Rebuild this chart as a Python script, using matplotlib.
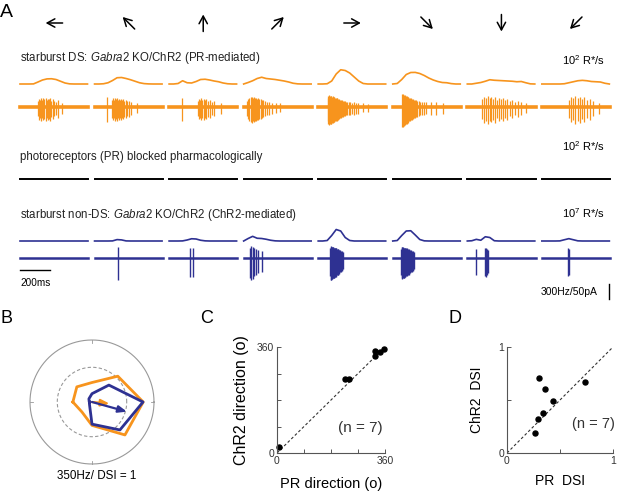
import numpy as np
import matplotlib.pyplot as plt

plt.rcParams['font.family'] = ['Liberation Sans', 'DejaVu Sans']
plt.rcParams['mathtext.fontset'] = 'custom'
plt.rcParams['mathtext.rm'] = 'Liberation Sans'
plt.rcParams['mathtext.it'] = 'Liberation Sans:italic'

W, H = 617, 492
ORANGE = '#F7941D'
BLUE = '#2E3192'
GREY = '#999999'

# stimulus directions (deg), in the order of the traces
directions = [180, 135, 90, 45, 0, 315, 270, 225]

# firing rate sampled every 30 ms (Hz)
rate_t = [0, 30, 60, 90, 120, 150, 180, 210, 240, 270, 300, 330, 360, 390, 420, 450]
pr_rate = [
    [0, 0, 0, 2, 40, 80, 102, 105, 90, 55, 20, 3, 0, 0, 0, 0],
    [0, 0, 5, 25, 70, 125, 130, 110, 85, 55, 25, 8, 2, 0, 0, 0],
    [0, 0, 10, 65, 25, 20, 50, 90, 95, 80, 60, 45, 20, 5, 0, 0],
    [0, 30, 65, 110, 135, 110, 100, 90, 75, 60, 40, 15, 3, 0, 0, 0],
    [0, 0, 5, 60, 200, 285, 270, 220, 140, 60, 10, 0, 0, 0, 0, 0],
    [0, 10, 90, 190, 230, 232, 210, 170, 120, 80, 50, 30, 25, 8, 0, 0],
    [0, 0, 15, 30, 55, 85, 75, 70, 65, 60, 55, 45, 50, 25, 3, 0],
    [0, 0, 0, 0, 0, 5, 25, 45, 65, 73, 65, 50, 45, 40, 15, 0],
]
chr2_rate = [
    [0, 0, 0, 0, 0, 0, 0, 0, 0, 0, 0, 0, 0, 0, 0, 0],
    [0, 0, 0, 0, 2, 28, 22, 2, 0, 0, 0, 0, 0, 0, 0, 0],
    [0, 0, 0, 2, 20, 45, 40, 15, 3, 0, 0, 0, 0, 0, 0, 0],
    [0, 50, 93, 55, 50, 35, 15, 3, 0, 0, 0, 0, 0, 0, 0, 0],
    [0, 0, 10, 110, 230, 200, 70, 10, 0, 0, 0, 0, 0, 0, 0, 0],
    [0, 10, 110, 200, 205, 120, 30, 3, 0, 0, 0, 0, 0, 0, 0, 0],
    [0, 5, 33, 15, 85, 70, 5, 0, 0, 0, 0, 0, 0, 0, 0, 0],
    [0, 0, 0, 0, 2, 25, 47, 25, 3, 0, 0, 0, 0, 0, 0, 0],
]

# spike times (ms) and amplitudes (pA)
pr_spikes = [
    [118, 126, 133, 141, 148, 156, 163, 171, 178, 186, 193, 201, 209, 218, 228, 240, 255, 278],
    [82, 118, 125, 131, 138, 144, 151, 157, 164, 170, 177, 184, 191, 199, 208, 218, 230, 246, 282],
    [89, 190, 198, 206, 214, 222, 230, 239, 248, 258, 270, 284, 300, 345],
    [20, 30, 38, 46, 53, 60, 67, 74, 81, 88, 96, 104, 113, 122, 132, 143, 155, 170, 190, 215, 240],
    [62, 68, 73, 78, 83, 88, 93, 98, 103, 108, 113, 118, 123, 128, 133, 139, 145, 151, 157, 164,
     171, 178, 186, 194, 203, 213, 224, 236, 250, 267, 300, 330],
    [64, 69, 74, 79, 84, 89, 94, 99, 104, 110, 116, 122, 128, 134, 141, 148, 156, 164, 173, 183,
     194, 206, 220, 256, 289, 333],
    [100, 112, 124, 137, 148, 160, 172, 183, 195, 208, 222, 236, 250, 266, 282, 300, 318, 338, 360, 389],
    [178, 192, 206, 222, 238, 252, 268, 284, 300, 318, 340, 378],
]
pr_amp = [
    [30, 42, 35, 46, 38, 44, 40, 47, 36, 43, 39, 45, 33, 40, 30, 28, 35, 22],
    [50, 35, 44, 38, 47, 40, 45, 36, 43, 38, 42, 35, 40, 32, 37, 30, 33, 25, 20],
    [47, 30, 40, 35, 44, 38, 42, 36, 40, 32, 36, 28, 30, 22],
    [30, 40, 45, 50, 52, 48, 50, 46, 47, 43, 44, 40, 40, 36, 34, 30, 28, 25, 22, 20, 18],
    [45, 58, 60, 57, 55, 56, 52, 54, 50, 51, 47, 48, 44, 45, 42, 40, 38, 37, 34, 33,
     30, 30, 28, 27, 25, 25, 23, 25, 22, 22, 18, 15],
    [65, 66, 62, 60, 58, 56, 55, 52, 50, 48, 46, 44, 42, 40, 38, 36, 34, 32, 30, 28,
     27, 25, 24, 28, 26, 22],
    [40, 52, 45, 55, 48, 50, 42, 52, 38, 46, 40, 48, 35, 42, 30, 38, 28, 32, 25, 20],
    [38, 50, 44, 55, 48, 52, 40, 50, 36, 42, 30, 22],
]
chr2_spikes = [
    [],
    [156],
    [140, 162],
    [40, 50, 60, 72, 84, 98, 124],
    [78, 82, 85, 89, 92, 96, 99, 103, 106, 110, 113, 117, 121, 125, 129, 133, 137, 141, 146, 151, 156, 161, 167],
    [56, 60, 64, 68, 72, 76, 80, 84, 88, 92, 96, 100, 105, 110, 115, 120, 126, 132, 138, 144],
    [56, 118, 124, 130, 138],
    [171, 180],
]
chr2_amp = [
    [],
    [72],
    [63, 63],
    [65, 73, 70, 60, 55, 50, 45],
    [60, 73, 72, 70, 70, 68, 68, 66, 65, 64, 63, 62, 60, 58, 57, 55, 53, 50, 48, 45, 42, 40, 35],
    [55, 68, 70, 68, 66, 65, 63, 62, 60, 60, 58, 56, 55, 52, 50, 48, 45, 42, 40, 35],
    [55, 60, 62, 58, 50],
    [60, 58],
]

# polar plot: spike rate per direction (Hz)
pr_polar = [108, 121, 110, 206, 289, 263, 132, 80]
chr2_polar = [15, 25, 47, 135, 288, 223, 125, 20]
polar_max = 350

# population: preferred direction and DSI
pr_dir = [7, 228, 239, 327, 327, 343, 358]
chr2_dir = [21, 250, 250, 347, 330, 344, 354]
pr_dsi = [0.30, 0.36, 0.43, 0.34, 0.29, 0.26, 0.74]
chr2_dsi = [0.71, 0.60, 0.49, 0.38, 0.32, 0.19, 0.67]


def fx(x):
    return x / W


def fy(y):
    return 1 - y / H


# layout of panel A (pixels / ms)
X0 = 20
MS_PX = 0.15
SEG_PITCH = 497
SEG_LEN = 455
HZ_PX = 0.05
PA_PX = 0.3
Y_ARROW = 23
Y_PR_RATE, Y_PR_SPK = 84, 107
Y_BLOCK = 179
Y_CH_RATE, Y_CH_SPK = 241, 258

fig = plt.figure(figsize=(W / 100, H / 100), dpi=100)
axA = fig.add_axes([0, 0, 1, 1])
axA.set_xlim(-X0 / MS_PX, (W - X0) / MS_PX)
axA.set_ylim(H, 0)
axA.axis('off')

for k, d in enumerate(directions):
    t0 = k * SEG_PITCH
    t = t0 + np.array(rate_t)
    # direction arrow
    c = t0 + SEG_LEN / 2
    th = np.deg2rad(d)
    dx, dy = 8.5 * np.cos(th) / MS_PX, -8.5 * np.sin(th)
    axA.annotate('', xy=(c + dx, Y_ARROW + dy), xytext=(c - dx, Y_ARROW - dy),
                 arrowprops=dict(arrowstyle='->,head_length=0.55,head_width=0.3',
                                 lw=1.1, color='k', shrinkA=0, shrinkB=0))
    # PR mediated
    axA.plot(t, Y_PR_RATE - np.array(pr_rate[k]) * HZ_PX, color=ORANGE, lw=1.2)
    axA.plot([t0, t0 + SEG_LEN], [Y_PR_SPK, Y_PR_SPK], color=ORANGE, lw=2.6)
    a = np.array(pr_amp[k]) * PA_PX
    axA.vlines(t0 + np.array(pr_spikes[k]), Y_PR_SPK - 0.65 * a, Y_PR_SPK + a,
               color=ORANGE, lw=0.9)
    # PR blocked
    axA.plot([t0, t0 + SEG_LEN], [Y_BLOCK, Y_BLOCK], color='k', lw=1.4)
    # ChR2 mediated
    axA.plot(t, Y_CH_RATE - np.array(chr2_rate[k]) * HZ_PX, color=BLUE, lw=1.2)
    axA.plot([t0, t0 + SEG_LEN], [Y_CH_SPK, Y_CH_SPK], color=BLUE, lw=1.8)
    if chr2_spikes[k]:
        a = np.array(chr2_amp[k]) * PA_PX
        axA.vlines(t0 + np.array(chr2_spikes[k]), Y_CH_SPK - 0.53 * a, Y_CH_SPK + a,
                   color=BLUE, lw=1.0)

fs_row = 8.3
fig.text(fx(20), fy(58), 'starburst DS: $\\mathit{Gabra2}$ KO/ChR2 (PR-mediated)',
         fontsize=fs_row, va='center', color='#222222')
fig.text(fx(20), fy(157), 'photoreceptors (PR) blocked pharmacologically',
         fontsize=fs_row, va='center', color='#222222')
fig.text(fx(20), fy(215), 'starburst non-DS: $\\mathit{Gabra2}$ KO/ChR2 (ChR2-mediated)',
         fontsize=fs_row, va='center', color='#222222')
fig.text(fx(605), fy(60), '10$^2$ R*/s', fontsize=8, ha='right', va='center')
fig.text(fx(605), fy(146), '10$^2$ R*/s', fontsize=8, ha='right', va='center')
fig.text(fx(605), fy(213), '10$^7$ R*/s', fontsize=8, ha='right', va='center')

# scale bars
axA.plot([0, 200], [270, 270], color='k', lw=1)
fig.text(fx(20), fy(283), '200ms', fontsize=7.2, va='center')
bar_x = (609 - X0) / MS_PX
axA.plot([bar_x, bar_x], [284, 284 + 50 * PA_PX], color='k', lw=1)
fig.text(fx(598), fy(292), '300Hz/50pA', fontsize=7.5, ha='right', va='center')

# panel letters
fig.text(fx(0), fy(4), 'A', fontsize=14, va='top')
fig.text(fx(1), fy(310), 'B', fontsize=13, va='top')
fig.text(fx(200), fy(310), 'C', fontsize=13, va='top')
fig.text(fx(448), fy(310), 'D', fontsize=13, va='top')

# B: polar plot
cx, cy, half = 92, 402, 70
axB = fig.add_axes([fx(cx - half), fy(cy + half), 2 * half / W, 2 * half / H])
lim = polar_max * half / 62
axB.set_xlim(-lim, lim)
axB.set_ylim(-lim, lim)
axB.axis('off')
circ = np.linspace(0, 2 * np.pi, 300)
axB.plot(polar_max * np.cos(circ), polar_max * np.sin(circ), color=GREY, lw=0.8)
ring = 0.56 * polar_max
axB.plot(ring * np.cos(circ), ring * np.sin(circ), color=GREY, lw=0.8, ls=(0, (3, 2)))
for q in [0, 90, 180, 270]:
    qa = np.deg2rad(q)
    axB.plot([0.95 * polar_max * np.cos(qa), polar_max * np.cos(qa)],
             [0.95 * polar_max * np.sin(qa), polar_max * np.sin(qa)], color=GREY, lw=0.6)
ang = np.deg2rad(directions)
for rates, col in [(pr_polar, ORANGE), (chr2_polar, BLUE)]:
    r = np.array(rates, dtype=float)
    px_ = np.append(r * np.cos(ang), r[0] * np.cos(ang[0]))
    py_ = np.append(r * np.sin(ang), r[0] * np.sin(ang[0]))
    axB.plot(px_, py_, color=col, lw=2)
for rates, col in [(pr_polar, ORANGE), (chr2_polar, BLUE)]:
    r = np.array(rates, dtype=float)
    v = np.sum(r * np.exp(1j * ang)) / np.sum(r)
    tip = v * polar_max
    axB.annotate('', xy=(tip.real, tip.imag), xytext=(0, 0),
                 arrowprops=dict(arrowstyle='-|>,head_length=0.5,head_width=0.2',
                                 lw=1.6, color=col, shrinkA=0, shrinkB=0))
fig.text(fx(97), fy(476), '350Hz/ DSI = 1', fontsize=8.4, ha='center', va='center')


def style_axes(ax):
    for s in ['top', 'right']:
        ax.spines[s].set_visible(False)
    for s in ['left', 'bottom']:
        ax.spines[s].set_color('#555555')
        ax.spines[s].set_linewidth(0.8)
    ax.tick_params(direction='in', length=3, width=0.7, color='#555555',
                   labelsize=7.5, labelcolor='#333333', pad=2)


# C: preferred direction
axC = fig.add_axes([fx(277), fy(453), 108 / W, 106 / H])
axC.plot([0, 360], [0, 360], color='#333333', lw=0.8, ls=(0, (2.5, 2)))
axC.plot(pr_dir, chr2_dir, 'o', color='k', ms=3.6, clip_on=False)
axC.set_xlim(0, 360)
axC.set_ylim(0, 360)
axC.set_xticks([0, 90, 180, 270, 360])
axC.set_xticklabels(['0', '', '', '', '360'])
axC.set_yticks([0, 90, 180, 270, 360])
axC.set_yticklabels(['0', '', '', '', '360'])
style_axes(axC)
axC.set_xlabel('PR direction (o)', fontsize=10.5, labelpad=8)
axC.set_ylabel('ChR2 direction (o)', fontsize=11.5, labelpad=6)
axC.text(0.98, 0.24, '(n = 7)', transform=axC.transAxes, fontsize=11, ha='right',
         va='center', color='#333333')

# D: DSI
axD = fig.add_axes([fx(507), fy(453), 106 / W, 106 / H])
axD.plot([0, 1], [0, 1], color='#333333', lw=0.8, ls=(0, (2.5, 2)))
axD.plot(pr_dsi, chr2_dsi, 'o', color='k', ms=3.6, clip_on=False)
axD.set_xlim(0, 1)
axD.set_ylim(0, 1)
axD.set_xticks([0, 0.5, 1])
axD.set_xticklabels(['0', '', '1'])
axD.set_yticks([0, 0.5, 1])
axD.set_yticklabels(['0', '', '1'])
style_axes(axD)
axD.set_xlabel('PR  DSI', fontsize=10, labelpad=6)
axD.set_ylabel('ChR2  DSI', fontsize=10, labelpad=10)
axD.text(1.02, 0.27, '(n = 7)', transform=axD.transAxes, fontsize=10.5, ha='right',
         va='center', color='#333333')

fig.savefig('out.png', dpi=100)
